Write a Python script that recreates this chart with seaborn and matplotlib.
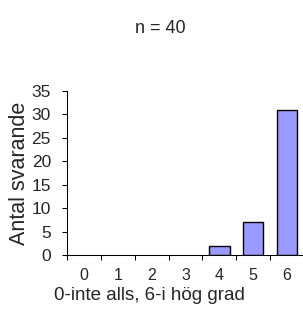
import matplotlib
matplotlib.use("Agg")
import matplotlib.pyplot as plt
import seaborn as sns
import pandas as pd

# data
categories = ["0", "1", "2", "3", "4", "5", "6"]
counts = [0, 0, 0, 0, 2, 7, 31]
n_total = 40

sns.set_style("white")
plt.rcParams["font.family"] = ["Liberation Sans", "DejaVu Sans"]

df = pd.DataFrame({"svar": categories, "antal": counts})

fig = plt.figure(figsize=(3.03, 3.09), dpi=100)
ax = fig.add_axes([67 / 303, 54 / 309, 237 / 303, 164 / 309])

sns.barplot(data=df, x="svar", y="antal", order=categories, color="#9999FF",
            saturation=1, edgecolor="black", linewidth=1.0, width=0.6, ax=ax)

# empty categories show no outline
for p in ax.patches:
    if p.get_height() == 0:
        p.set_linewidth(0)

ax.set_xlim(-0.5, 6.5)
ax.set_ylim(0, 35)
ax.set_yticks(range(0, 36, 5))

# ticks between the categories, labels in the middle
ax.set_xticks([i - 0.5 for i in range(8)], minor=True)
ax.tick_params(axis="x", which="major", length=0, pad=9.2, labelsize=11.5)
ax.tick_params(axis="x", which="minor", length=3.6, width=0.75, direction="out",
               bottom=True, color="black")
ax.tick_params(axis="y", length=3.6, width=0.75, direction="out", left=True,
               pad=8, labelsize=12.5, color="black")

for side in ["top", "right"]:
    ax.spines[side].set_visible(False)
for side in ["left", "bottom"]:
    ax.spines[side].set_color("black")
    ax.spines[side].set_linewidth(0.75)

ax.set_xlabel("0-inte alls, 6-i hög grad", fontsize=13.5)
ax.xaxis.set_label_coords(0.346, -0.197)
ax.set_ylabel("Antal svarande", fontsize=15.5)
ax.yaxis.set_label_coords(-0.156, 0.5)

fig.text(0.528, 0.909, f"n = {n_total}", ha="center", va="center", fontsize=13)

fig.savefig("out.png", dpi=100)
